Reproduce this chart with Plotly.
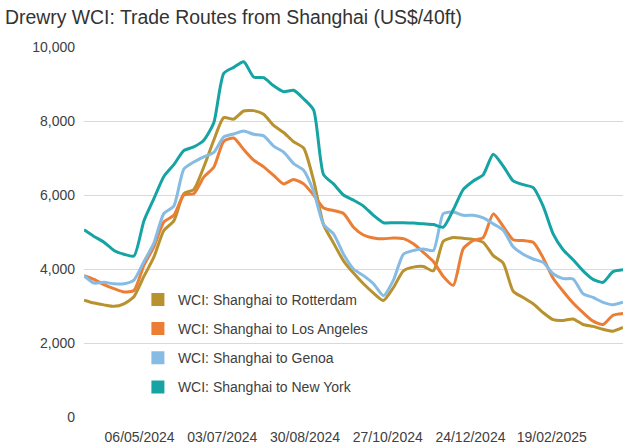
import pandas as pd
import plotly.graph_objects as go

dates = pd.date_range("2024-03-28", periods=55, freq="7D")

rotterdam = [3160, 3080, 3030, 2990, 3060, 3250, 3800, 4320, 5040, 5300,
             6035, 6150, 6757, 7480, 8090, 8050, 8270, 8280, 8180, 7880,
             7690, 7440, 7270, 6400, 5200, 4700, 4220, 3890, 3600, 3350,
             3150, 3500, 3950, 4050, 4065, 3950, 4750, 4850, 4830, 4800,
             4720, 4360, 4160, 3400, 3230, 3060, 2820, 2630, 2610, 2650,
             2500, 2450, 2370, 2320, 2420]

los_angeles = [3820, 3720, 3580, 3470, 3380, 3420, 4100, 4600, 5270, 5450,
               6000, 6035, 6485, 6750, 7450, 7540, 7230, 6940, 6760, 6530,
               6300, 6420, 6300, 6000, 5650, 5580, 5500, 5130, 4920, 4840,
               4815, 4840, 4820, 4680, 4450, 4200, 3800, 3560, 4550, 4770,
               4850, 5490, 5150, 4790, 4770, 4720, 4300, 3750, 3400, 3080,
               2820, 2590, 2500, 2750, 2800]

genoa = [3820, 3620, 3640, 3600, 3600, 3700, 4200, 4700, 5500, 5700,
         6700, 6890, 7030, 7150, 7570, 7650, 7730, 7640, 7600, 7320,
         7160, 6850, 6670, 6100, 5200, 4950, 4400, 4000, 3820, 3600,
         3280, 3700, 4400, 4500, 4540, 4500, 5500, 5540, 5450, 5450,
         5380, 5220, 5050, 4600, 4400, 4270, 4180, 3870, 3740, 3730,
         3330, 3230, 3100, 3035, 3100]

new_york = [5060, 4880, 4725, 4500, 4400, 4350, 5300, 5900, 6500, 6820,
            7200, 7300, 7480, 7950, 9290, 9450, 9600, 9190, 9170, 8950,
            8790, 8830, 8600, 8300, 6550, 6300, 6000, 5860, 5700, 5450,
            5250, 5250, 5250, 5240, 5220, 5200, 5130, 5600, 6150, 6380,
            6550, 7100, 6780, 6380, 6280, 6200, 5700, 4950, 4520, 4250,
            3950, 3720, 3640, 3930, 3980]

series_names = ["WCI: Shanghai to Rotterdam", "WCI: Shanghai to Los Angeles",
                "WCI: Shanghai to Genoa", "WCI: Shanghai to New York"]
series_values = [rotterdam, los_angeles, genoa, new_york]
colors = ["#B8922E", "#EC7D35", "#86BBE4", "#16A3A3"]

tick_dates = ["2024-05-06", "2024-07-03", "2024-08-30", "2024-10-27",
              "2024-12-24", "2025-02-19"]
tick_labels = ["06/05/2024", "03/07/2024", "30/08/2024", "27/10/2024",
               "24/12/2024", "19/02/2025"]
y_ticks = [0, 2000, 4000, 6000, 8000, 10000]

fig = go.Figure()
for name, vals, col in zip(series_names, series_values, colors):
    fig.add_trace(go.Scatter(x=dates, y=vals, mode="lines", name=name,
                             line=dict(color=col, width=3, shape="spline", smoothing=0.6),
                             showlegend=False, hoverinfo="skip"))
for i, (name, col) in enumerate(zip(series_names, colors)):
    fig.add_trace(go.Scatter(x=[None], y=[None], mode="markers", name=name,
                             legendgroup=f"g{i}",
                             marker=dict(symbol="square", size=13, color=col)))

fig.update_layout(
    width=626, height=447,
    margin=dict(l=84, r=3, t=47, b=30),
    paper_bgcolor="white", plot_bgcolor="white",
    font=dict(family="Liberation Sans, Arial, sans-serif", color="#404040", size=14),
    title=dict(text="Drewry WCI: Trade Routes from Shanghai (US$/40ft)",
               x=0.008, xanchor="left", y=0.962, yanchor="middle",
               font=dict(size=19.4, color="#333333")),
    legend=dict(x=0.1, y=0.36, xanchor="left", yanchor="top",
                bgcolor="rgba(0,0,0,0)", font=dict(size=14, color="#404040"),
                traceorder="grouped", tracegroupgap=8),
    showlegend=True,
)
fig.update_xaxes(range=[dates[0], dates[-1]], tickvals=tick_dates, ticktext=tick_labels,
                 showgrid=False, zeroline=False, showline=False, ticks="",
                 ticklabelstandoff=10, tickfont=dict(size=14, color="#404040"))
fig.update_yaxes(range=[0, 10000], tickvals=y_ticks, tickformat=",d",
                 showgrid=True, gridcolor="#D9D9D9", gridwidth=1, zeroline=False,
                 ticks="", ticklabelstandoff=8, tickfont=dict(size=14, color="#404040"))

fig.write_html("out.html", config={"displayModeBar": False},
               post_script="document.body.style.margin='0';")
